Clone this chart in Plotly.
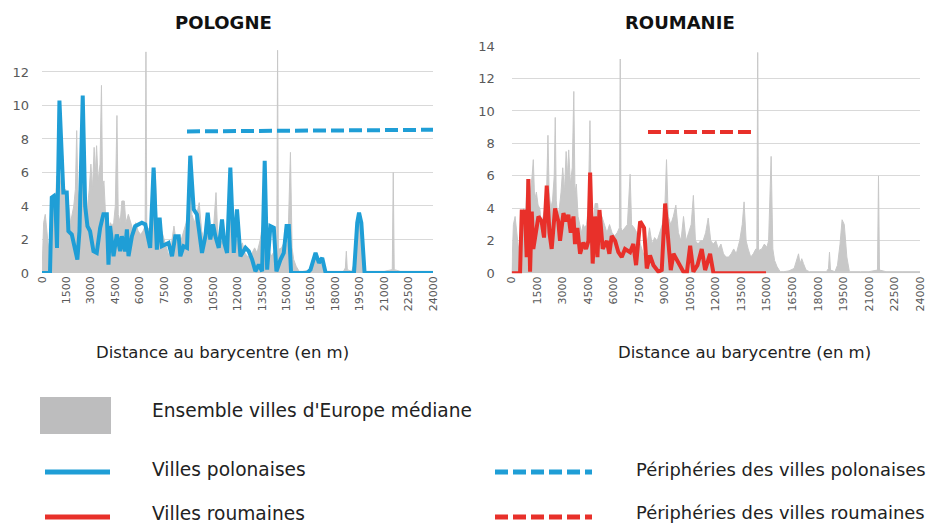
import plotly.graph_objects as go

# ---------------- data ----------------
ensemble_dist = [0, 100, 200, 300, 400, 500, 600, 700, 800, 900, 1000, 1100, 1200, 1270, 1350,
                 1450, 1550, 1650, 1750, 1850, 1950, 2050, 2130, 2200, 2300, 2400, 2500, 2560,
                 2620, 2700, 2800, 2900, 3000, 3100, 3200, 3280, 3350, 3450, 3560, 3650, 3720,
                 3800, 3900, 4000, 4100, 4200, 4300, 4400, 4500, 4600, 4680, 4800, 4900, 5050,
                 5150, 5300, 5450, 5600, 5750, 5900, 6050, 6200, 6330, 6380, 6430, 6500, 6650,
                 6800, 6960, 7050, 7200, 7350, 7500, 7650, 7800, 7950, 8100, 8250, 8400, 8550,
                 8700, 8850, 9000, 9100, 9200, 9350, 9500, 9650, 9800, 9950, 10100, 10250,
                 10400, 10550, 10680, 10800, 10950, 11100, 11250, 11400, 11550, 11700, 11850,
                 12000, 12150, 12300, 12450, 12600, 12750, 12900, 13050, 13200, 13400, 13550,
                 13660, 13780, 13900, 14050, 14200, 14350, 14410, 14460, 14510, 14700, 14850,
                 15000, 15100, 15250, 15350, 15450, 15600, 15780, 16000, 16300, 16600, 16750,
                 16860, 16950, 17050, 17150, 17300, 17500, 18000, 18500, 18620, 18680, 18740,
                 19000, 19150, 19300, 19420, 19550, 19700, 19850, 20500, 21000, 21500, 21560,
                 21620, 22000, 23000, 24000]
ensemble_val = [0, 3.0, 3.5, 2.5, 1.5, 2.0, 3.0, 4.0, 3.0, 5.8, 4.5, 5.0, 6.0, 7.0, 4.5,
                5.0, 4.2, 4.0, 3.0, 3.5, 4.0, 5.0, 8.5, 5.0, 4.0, 4.5, 6.0, 9.6,
                4.5, 3.5, 4.0, 5.0, 6.5, 5.0, 7.5, 6.0, 7.6, 5.5, 6.5, 11.2, 5.0,
                5.5, 3.5, 3.0, 2.5, 3.0, 2.8, 3.0, 4.0, 9.4, 3.5, 3.0, 4.3, 4.3,
                3.0, 3.5, 3.0, 2.5, 3.0, 2.5, 2.3, 2.5, 2.8, 13.2, 2.8, 2.6, 2.8,
                3.0, 6.1, 3.0, 2.8, 2.5, 2.0, 1.5, 1.0, 1.8, 2.8, 1.8, 2.2, 2.0,
                2.5, 3.0, 4.0, 7.0, 3.5, 3.0, 3.5, 4.2, 2.5, 2.0, 3.5, 2.0,
                2.5, 3.0, 4.8, 2.0, 1.8, 2.0, 2.0, 2.5, 3.4, 2.0, 1.8,
                2.0, 1.5, 1.8, 1.2, 1.0, 1.0, 1.2, 1.5, 1.2, 2.0, 3.0,
                4.4, 2.0, 1.5, 1.0, 1.2, 1.5, 1.5, 13.6, 1.4, 1.5, 1.8,
                1.6, 2.0, 7.2, 1.5, 0.8, 0.4, 0.1, 0.1, 0.15, 0.3, 0.8,
                1.2, 0.6, 0.9, 0.6, 0.2, 0.1, 0.1, 0.1, 0.3, 1.3, 0.2,
                0.1, 0.5, 1.8, 3.3, 3.0, 1.0, 0.1, 0.1, 0.1, 0.2, 6.0,
                0.2, 0.1, 0.1, 0.1]

pol_dist = [0, 490, 600, 740, 820, 920, 1070, 1190, 1310, 1520, 1620, 1830, 2030, 2170, 2300,
            2500, 2650, 2790, 2950, 3160, 3360, 3570, 3770, 3980, 4080, 4180, 4390, 4590,
            4800, 4900, 5100, 5210, 5310, 5520, 5720, 5930, 6130, 6340, 6540, 6640, 6850,
            7050, 7220, 7360, 7570, 7770, 7980, 8180, 8390, 8490, 8690, 8900, 9100, 9310,
            9510, 9680, 9820, 10030, 10170, 10330, 10500, 10640, 10850, 11050, 11190, 11360,
            11560, 11770, 11970, 12180, 12490, 12690, 12900, 13100, 13310, 13510, 13670,
            13820, 14020, 14230, 14390, 14640, 14840, 15010, 15150, 15290, 16280, 16480,
            16790, 17000, 17200, 17410, 19150, 19350, 19460, 19600, 19800, 24000]
pol_val = [0, 0, 4.5, 4.6, 4.3, 1.5, 10.3, 8.0, 4.8, 4.8, 2.5, 2.3, 1.5, 0.8, 2.5,
           10.6, 4.0, 2.8, 2.5, 1.3, 1.2, 2.7, 3.5, 3.5, 0.5, 2.8, 1.0, 2.3,
           1.3, 2.2, 1.3, 2.6, 1.0, 2.2, 2.8, 2.9, 3.0, 2.9, 2.0, 1.5, 6.3,
           1.4, 3.3, 1.6, 1.7, 1.8, 1.0, 2.2, 2.2, 1.0, 1.6, 1.5, 7.0, 3.8,
           3.5, 2.0, 1.2, 2.2, 3.6, 2.0, 2.9, 2.2, 1.5, 3.2, 1.8, 1.2,
           6.3, 1.2, 3.8, 1.0, 1.5, 1.3, 0.8, 0.1, 0.5, 0.1, 6.7,
           0.2, 2.8, 2.7, 0.1, 0.8, 1.2, 2.8, 2.8, 0.0, 0.0, 0.2,
           1.2, 0.6, 0.9, 0.0, 0.0, 3.0, 3.6, 3.0, 0.0, 0]

rou_dist = [0, 490, 590, 780, 880, 980, 1080, 1180, 1270, 1430, 1570, 1760, 1900, 2060, 2220,
            2350, 2550, 2740, 2840, 3040, 3200, 3330, 3470, 3630, 3720, 3860, 4020, 4210,
            4370, 4510, 4610, 4760, 4900, 5040, 5160, 5350, 5590, 5740, 5880, 6080, 6270,
            6470, 6660, 6960, 7150, 7310, 7550, 7780, 7940, 8130, 8330, 8620, 8820, 9020,
            9210, 9350, 9510, 9700, 9900, 10090, 10290, 10490, 10680, 10920, 11170, 11370,
            11660, 11860, 14950]
rou_val = [0, 0, 3.8, 3.8, 1.0, 5.8, 0.1, 3.8, 1.5, 2.5, 3.5, 3.2, 2.2, 5.4, 2.5,
           1.5, 4.0, 3.2, 2.0, 3.7, 3.2, 3.6, 2.5, 3.5, 1.8, 2.8, 1.2, 1.9,
           1.5, 2.0, 6.2, 0.6, 3.5, 1.0, 3.9, 1.5, 2.0, 1.2, 2.3, 2.0, 1.3,
           1.0, 1.5, 1.3, 1.8, 0.5, 3.2, 2.8, 0.3, 1.1, 0.5, 0.1, 0.2, 4.3,
           1.5, 0.2, 1.2, 0.8, 0.5, 0.1, 0.0, 1.7, 0.1, 0.5, 1.5, 0.2,
           1.2, 0.0, 0.0]

peri_pol_dist = [8900, 24000]
peri_pol_val = [8.45, 8.55]
peri_rou_dist = [8010, 14300]
peri_rou_val = [8.7, 8.7]

x_ticks = list(range(0, 24001, 1500))
y_ticks_left = list(range(0, 13, 2))
y_ticks_right = list(range(0, 15, 2))

# ---------------- style ----------------
GRAY = "#c8c8c8"
BLUE = "#1f9ed6"
RED = "#e8302a"
TICK = "#595959"
OFF = 8                 # the page's default body margin
W, H = 934 - OFF, 523 - OFF


def px(x):
    return (x - OFF) / W


def py(y):
    return 1 - (y - OFF) / H


fig = go.Figure()

fig.add_trace(go.Scatter(x=ensemble_dist, y=ensemble_val, mode="lines", fill="tozeroy",
                         fillcolor=GRAY, line=dict(color=GRAY, width=1),
                         xaxis="x", yaxis="y", showlegend=False, hoverinfo="skip"))
fig.add_trace(go.Scatter(x=pol_dist, y=pol_val, mode="lines",
                         line=dict(color=BLUE, width=4), xaxis="x", yaxis="y",
                         showlegend=False))
fig.add_trace(go.Scatter(x=peri_pol_dist, y=peri_pol_val, mode="lines",
                         line=dict(color=BLUE, width=4, dash="13px,5px"),
                         xaxis="x", yaxis="y", showlegend=False))

fig.add_trace(go.Scatter(x=ensemble_dist, y=ensemble_val, mode="lines", fill="tozeroy",
                         fillcolor=GRAY, line=dict(color=GRAY, width=1),
                         xaxis="x2", yaxis="y2", showlegend=False, hoverinfo="skip"))
fig.add_trace(go.Scatter(x=rou_dist, y=rou_val, mode="lines",
                         line=dict(color=RED, width=4), xaxis="x2", yaxis="y2",
                         showlegend=False))
fig.add_trace(go.Scatter(x=peri_rou_dist, y=peri_rou_val, mode="lines",
                         line=dict(color=RED, width=4, dash="13px,5px"),
                         xaxis="x2", yaxis="y2", showlegend=False))

xaxis_common = dict(tickvals=x_ticks, ticktext=[str(v) for v in x_ticks], tickangle=-90,
                    tickfont=dict(family="DejaVu Sans", size=11, color=TICK),
                    showgrid=False, zeroline=False, showline=False, ticks="",
                    range=[0, 24000], fixedrange=True, automargin=False)
yaxis_common = dict(tickfont=dict(family="DejaVu Sans", size=13, color=TICK),
                    showgrid=True, gridcolor="#d9d9d9", gridwidth=1, zeroline=False,
                    showline=False, ticks="", fixedrange=True, automargin=False)

fig.update_layout(
    width=W, height=H, autosize=False,
    margin=dict(l=0, r=0, t=0, b=0, pad=0, autoexpand=False),
    paper_bgcolor="white", plot_bgcolor="white",
    xaxis=dict(domain=[px(42), px(433)], anchor="y", **xaxis_common),
    yaxis=dict(domain=[py(273), py(50.2)], anchor="x", range=[0, 13.3],
               tickvals=y_ticks_left, ticklabelstandoff=12, **yaxis_common),
    xaxis2=dict(domain=[px(511.7), px(920)], anchor="y2", **xaxis_common),
    yaxis2=dict(domain=[py(273.3), py(46)], anchor="x2", range=[0, 14],
                tickvals=y_ticks_right, ticklabelstandoff=16, **yaxis_common),
)

font_txt = dict(family="DejaVu Sans", size=18.6, color="#222222")
font_txt_r = dict(family="DejaVu Sans", size=17.9, color="#222222")
font_axis = dict(family="DejaVu Sans", size=16.5, color="#222222")
font_title = dict(family="DejaVu Sans", size=18, color="#111111")
annotations = [
    dict(text="<b>POLOGNE</b>", x=px(223), y=py(22), font=font_title),
    dict(text="<b>ROUMANIE</b>", x=px(680), y=py(22), font=font_title),
    dict(text="Distance au barycentre (en m)", x=px(222), y=py(352), font=font_axis),
    dict(text="Distance au barycentre (en m)", x=px(744), y=py(352), font=font_axis),
    dict(text="Ensemble villes d'Europe médiane", x=px(150), y=py(410), xanchor="left", font=font_txt),
    dict(text="Villes polonaises", x=px(150), y=py(469), xanchor="left", font=font_txt),
    dict(text="Villes roumaines", x=px(150), y=py(513), xanchor="left", font=font_txt),
    dict(text="Périphéries des villes polonaises", x=px(634), y=py(469), xanchor="left", font=font_txt_r),
    dict(text="Périphéries des villes roumaines", x=px(634), y=py(512), xanchor="left", font=font_txt_r),
]
for a in annotations:
    a.setdefault("xanchor", "center")
    a.update(xref="paper", yref="paper", yanchor="middle", showarrow=False)
fig.update_layout(annotations=annotations)

shapes = [
    dict(type="rect", x0=px(40), x1=px(111), y0=py(434), y1=py(397),
         fillcolor="#bdbdbe", line=dict(width=0)),
    dict(type="line", x0=px(45), x1=px(110), y0=py(472), y1=py(472),
         line=dict(color=BLUE, width=5)),
    dict(type="line", x0=px(45), x1=px(110), y0=py(517), y1=py(517),
         line=dict(color=RED, width=5)),
    dict(type="line", x0=px(495), x1=px(592), y0=py(472), y1=py(472),
         line=dict(color=BLUE, width=5, dash="13px,5px")),
    dict(type="line", x0=px(495), x1=px(592), y0=py(517), y1=py(517),
         line=dict(color=RED, width=5, dash="13px,5px")),
]
for s in shapes:
    s.update(xref="paper", yref="paper")
fig.update_layout(shapes=shapes)

fig.write_html("out.html")
